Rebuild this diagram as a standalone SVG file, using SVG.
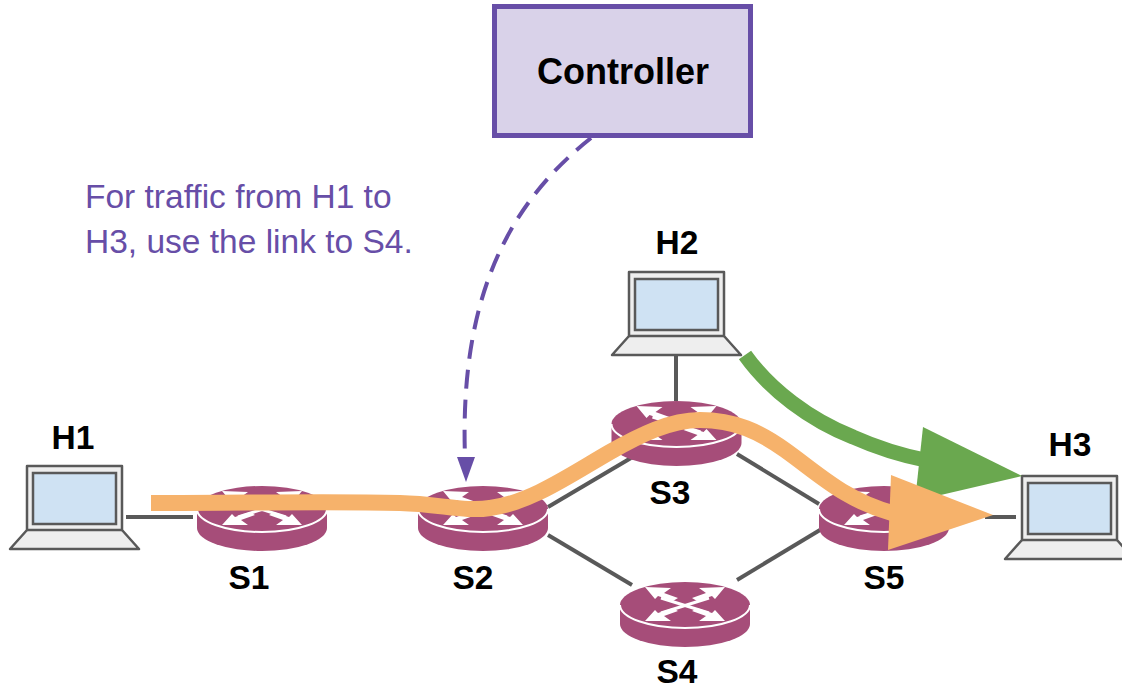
<svg xmlns="http://www.w3.org/2000/svg" xmlns:xlink="http://www.w3.org/1999/xlink" width="1122" height="687" viewBox="0 0 1122 687">
<style>
text{font-family:"Liberation Sans",Arial,sans-serif}
.lbl{font-size:33.5px;font-weight:700;fill:#000}
.note{font-size:33.5px;fill:#674ea7}
.link{stroke:#595959;stroke-width:4;fill:none}
.rb{fill:#a64d79}
.rl{fill:none;stroke:#fff;stroke-width:2}
.rg{fill:#fff}
.rs{fill:none;stroke:#fff;stroke-width:3}
.ls{fill:#eeeeee;stroke:#595959;stroke-width:2.5;stroke-linejoin:round}
.lc{fill:#cfe2f3;stroke:#595959;stroke-width:2.5}
</style>
<defs>
<g id="router">
<path class="rb" d="M-65,0 A65,23 0 0 1 65,0 V19 A65,23 0 0 1 -65,19 Z"/>
<path class="rl" d="M-65,0 A65,23 0 0 0 65,0"/>
<path class="rs" d="M-24,-7 L24,8 M24,-7 L-24,8"/>
<path class="rg" d="M-40,-18 L-14,-17 L-21,-12 L-7,-7 L-12,-4 L-27,-9 L-30,-6 Z"/>
<path class="rg" d="M40,-18 L14,-17 L21,-12 L7,-7 L12,-4 L27,-9 L30,-6 Z"/>
<path class="rg" d="M-40,16 L-14,16 L-21,11 L-7,6 L-12,3 L-27,8 L-30,5 Z"/>
<path class="rg" d="M40,16 L14,16 L21,11 L7,6 L12,3 L27,8 L30,5 Z"/>
</g>
<g id="laptop">
<path class="ls" d="M27,466 H122 V530 L139,549 H10 L27,530 Z"/>
<path class="ls" d="M27,530 H122"/>
<rect class="lc" x="33" y="473" width="83" height="51"/>
</g>
</defs>
<g id="connectors">
<path class="link" d="M126,517 H193"/>
<path class="link" d="M548,507 L631,458"/>
<path class="link" d="M548,535 L632,585"/>
<path class="link" d="M737,454 L819,504"/>
<path class="link" d="M737,580 L820,530"/>
<path class="link" d="M676,355 V401"/>
<path class="link" d="M985,517 H1016"/>
<path d="M591,138 C500,210 460,310 465,457" fill="none" stroke="#674ea7" stroke-width="4" stroke-dasharray="19 11"/>
<path d="M457,457 H475 L466,482 Z" fill="#674ea7"/>
</g>
<g id="controller">
<rect x="494.500" y="6.500" width="256" height="129" fill="#d9d2e9" stroke="#674ea7" stroke-width="5"/>
<text class="lbl" x="623" y="84" text-anchor="middle" style="font-size:36px">Controller</text>
</g>
<g id="note">
<text class="note" x="85" y="208">For traffic from H1 to</text>
<text class="note" x="85" y="253">H3, use the link to S4.</text>
</g>
<g id="S1"><use href="#router" x="262" y="509"/><text class="lbl" x="249" y="589" text-anchor="middle">S1</text></g>
<g id="S2"><use href="#router" x="483" y="509"/><text class="lbl" x="473" y="589" text-anchor="middle">S2</text></g>
<g id="S3"><use href="#router" x="676.500" y="424"/><text class="lbl" x="670" y="504" text-anchor="middle">S3</text></g>
<g id="S4"><use href="#router" x="685" y="605"/><text class="lbl" x="677" y="683" text-anchor="middle">S4</text></g>
<g id="S5"><use href="#router" x="884" y="509"/><text class="lbl" x="884" y="589" text-anchor="middle">S5</text></g>
<g id="H1"><use href="#laptop"/><text class="lbl" x="73" y="449" text-anchor="middle">H1</text></g>
<g id="H2"><use href="#laptop" x="602" y="-194"/><text class="lbl" x="677" y="254" text-anchor="middle">H2</text></g>
<g id="H3"><use href="#laptop" x="995" y="10"/><text class="lbl" x="1070" y="456" text-anchor="middle">H3</text></g>
<g id="flows">
<path d="M745,355 C770,390 810,420 853,437 C880,449 900,455 925,460" fill="none" stroke="#6aa84f" stroke-width="15"/>
<path d="M923,427 L1022,476 L915,501 Z" fill="#6aa84f"/>
<path d="M151,503 C250,503 330,501 400,503 C440,504 465,512 490,508 C530,503 570,475 610,452 C640,435 670,420 700,420 C735,420 760,432 785,450 C820,475 845,500 892,513" fill="none" stroke="#f6b26b" stroke-width="16"/>
<path d="M891,475 L993,515 L888,550 Z" fill="#f6b26b"/>
</g>
</svg>
